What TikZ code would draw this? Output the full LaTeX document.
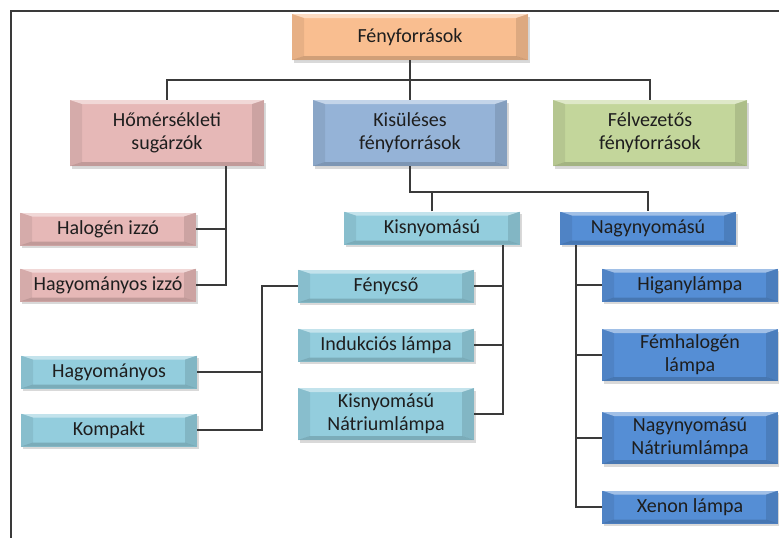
\documentclass[tikz,border=0pt]{standalone}
\usepackage{fontspec}
\setmainfont{Carlito}
\usetikzlibrary{shadows,calc}
\definecolor{cTop}{HTML}{F9BE90}
\definecolor{cHeat}{HTML}{E6B8B7}
\definecolor{cDisc}{HTML}{95B3D7}
\definecolor{cSemi}{HTML}{C3D69B}
\definecolor{cLow}{HTML}{93CDDD}
\definecolor{cHigh}{HTML}{558ED5}
\definecolor{cInk}{HTML}{1E1E1E}
\definecolor{cLine}{HTML}{3A3A3A}
\tikzset{
  bevel/.style = {path picture={
      \path (path picture bounding box.south west) coordinate (bsw)
            (path picture bounding box.north east) coordinate (bne)
            (path picture bounding box.north west) coordinate (bnw)
            (path picture bounding box.south east) coordinate (bse);
      \fill[white, opacity=.45] (bnw) -- (bne) -- ([xshift=-12pt,yshift=-4pt]bne)
            -- ([xshift=12pt,yshift=-4pt]bnw) -- cycle;
      \fill[black, opacity=.07] (bnw) -- ([xshift=12pt,yshift=-4pt]bnw)
            -- ([xshift=12pt,yshift=4pt]bsw) -- (bsw) -- cycle;
      \fill[black, opacity=.11] (bne) -- ([xshift=-12pt,yshift=-4pt]bne)
            -- ([xshift=-12pt,yshift=4pt]bse) -- (bse) -- cycle;
      \fill[black, opacity=.16] (bsw) -- ([xshift=12pt,yshift=4pt]bsw)
            -- ([xshift=-12pt,yshift=4pt]bse) -- (bse) -- cycle;
    }},
  box/.style   = {bevel, align=center, inner sep=0pt, text=cInk,
                  font=\fontsize{20}{23}\selectfont,
                  drop shadow={shadow xshift=1.5pt, shadow yshift=-2.5pt,
                               opacity=.3}},
  head/.style  = {box, fill=cTop, minimum width=236pt, minimum height=46pt},
  heat/.style  = {box, fill=cHeat},
  disc/.style  = {box, fill=cDisc},
  semi/.style  = {box, fill=cSemi},
  low/.style   = {box, fill=cLow},
  high/.style  = {box, fill=cHigh},
  big/.style   = {minimum width=194pt, minimum height=66pt},
  leaf/.style  = {minimum width=176pt, minimum height=33pt},
  tall/.style  = {minimum width=176pt, minimum height=52pt},
  link/.style  = {draw=cLine, line width=1.5pt},
}
\begin{document}
\begin{tikzpicture}[x=1pt, y=-1pt]
  \useasboundingbox (0,0) rectangle (779,538);
  % frame
  \draw[cLine, line width=2pt] (11,538) -- (11,11) -- (779,11);
  % top levels
  \node[head] (src) at (410,37) {Fényforrások};
  \node[heat, big] (heat) at (167,133) {Hőmérsékleti\\sugárzók};
  \node[disc, big] (disc) at (410,133) {Kisüléses\\fényforrások};
  \node[semi, big] (semi) at (650,133) {Félvezetős\\fényforrások};
  % thermal
  \node[heat, leaf] (halo) at (108,229) {Halogén izzó};
  \node[heat, leaf] (incand) at (108,285) {Hagyományos izzó};
  % discharge
  \node[low, leaf]  (lowp) at (432,228) {Kisnyomású};
  \node[high, leaf] (highp) at (648,228) {Nagynyomású};
  \node[low, leaf]  (tube) at (386,286) {Fénycső};
  \node[low, leaf]  (induct) at (386,345) {Indukciós lámpa};
  \node[low, tall]  (lowna) at (386,414) {Kisnyomású\\Nátriumlámpa};
  \node[low, leaf]  (classic) at (109,372) {Hagyományos};
  \node[low, leaf]  (compact) at (109,430) {Kompakt};
  \node[high, leaf] (merc) at (690,285) {Higanylámpa};
  \node[high, tall] (metal) at (690,355) {Fémhalogén\\lámpa};
  \node[high, tall] (highna) at (690,438) {Nagynyomású\\Nátriumlámpa};
  \node[high, leaf] (xenon) at (690,507) {Xenon lámpa};
  % buses
  \coordinate (bus1) at (0,80);
  \coordinate (bus2) at (0,192);
  \coordinate (busH) at (226,0);
  \coordinate (busL) at (503,0);
  \coordinate (busT) at (262,0);
  \coordinate (busN) at (576,0);
  % connectors
  \draw[link] (src) -- (disc);
  \draw[link] (heat.north) -- (heat.north |- bus1) -- (semi.north |- bus1) -- (semi.north);
  \draw[link] (heat.south -| busH) -- (incand -| busH) -- (incand);
  \draw[link] (halo) -- (halo -| busH);
  \draw[link] (disc.south) -- (disc.south |- bus2) -- (highp.north |- bus2) -- (highp.north);
  \draw[link] (lowp.north) -- (lowp.north |- bus2);
  \draw[link] (lowp.south -| busL) -- (lowna -| busL) -- (lowna);
  \foreach \n in {tube,induct} \draw[link] (\n) -- (\n -| busL);
  \draw[link] (tube) -- (tube -| busT) -- (compact -| busT) -- (compact);
  \draw[link] (classic) -- (classic -| busT);
  \draw[link] (highp.south -| busN) -- (xenon -| busN) -- (xenon);
  \foreach \n in {merc,metal,highna} \draw[link] (\n) -- (\n -| busN);
\end{tikzpicture}
\end{document}
